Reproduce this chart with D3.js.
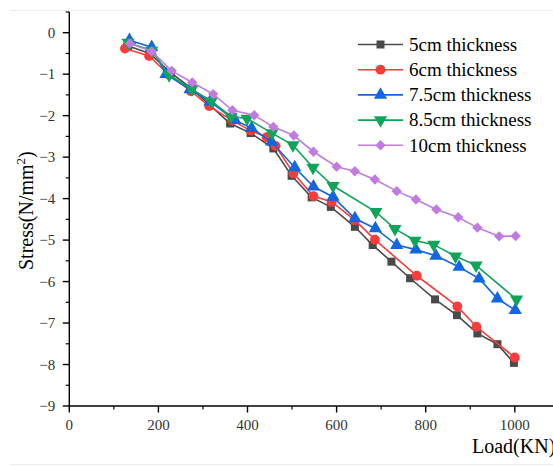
<!DOCTYPE html>
<html>
<head>
<meta charset="utf-8">
<script src="https://cdn.jsdelivr.net/npm/d3@7"></script>
<style>
  html, body { margin: 0; padding: 0; background: #fff; }
  svg { display: block; }
</style>
</head>
<body>
<svg id="chart" width="553" height="466"></svg>
<script>
// Series: load (kN) and stress (N/mm²) for each slab thickness
const seriesNames = ["5cm thickness", "6cm thickness", "7.5cm thickness", "8.5cm thickness", "10cm thickness"];

const load5 = [132, 181, 228, 275, 316, 361, 407, 458, 499, 544, 587, 641, 681, 723, 765, 821, 870, 916, 961, 998];
const stress5 = [-0.32, -0.5, -0.97, -1.35, -1.75, -2.19, -2.42, -2.79, -3.45, -3.97, -4.2, -4.68, -5.12, -5.52, -5.92, -6.43, -6.81, -7.25, -7.51, -7.96];

const load6 = [125, 179, 222, 273, 314, 366, 407, 443, 463, 503, 548, 589, 641, 686, 780, 871, 914, 1000];
const stress6 = [-0.38, -0.56, -1.0, -1.41, -1.77, -2.12, -2.36, -2.52, -2.73, -3.39, -3.94, -4.08, -4.52, -4.99, -5.86, -6.6, -7.09, -7.83];

const load75 = [135, 185, 217, 271, 316, 372, 409, 454, 506, 548, 592, 641, 687, 735, 778, 823, 875, 920, 961, 1001];
const stress75 = [-0.18, -0.35, -1.0, -1.37, -1.66, -2.11, -2.3, -2.63, -3.25, -3.71, -3.96, -4.48, -4.72, -5.12, -5.23, -5.38, -5.65, -5.93, -6.41, -6.69];

const load85 = [132, 185, 224, 275, 319, 363, 399, 455, 502, 547, 592, 688, 731, 776, 818, 867, 913, 1004];
const stress85 = [-0.24, -0.43, -1.02, -1.36, -1.65, -2.02, -2.07, -2.42, -2.71, -3.25, -3.69, -4.32, -4.73, -5.01, -5.11, -5.39, -5.61, -6.43];

const load10 = [136, 185, 230, 276, 323, 366, 415, 458, 504, 548, 600, 641, 686, 735, 778, 824, 873, 916, 965, 1002];
const stress10 = [-0.26, -0.45, -0.92, -1.2, -1.48, -1.87, -1.99, -2.27, -2.48, -2.87, -3.23, -3.34, -3.54, -3.82, -4.02, -4.26, -4.45, -4.7, -4.91, -4.9];

const xTicks = [0, 200, 400, 600, 800, 1000];
const yTicks = [0, -1, -2, -3, -4, -5, -6, -7, -8, -9];

const loads = [load5, load6, load75, load85, load10];
const stresses = [stress5, stress6, stress75, stress85, stress10];
const colors = ["#4a4a4a", "#f83b3b", "#1266e0", "#10a35a", "#c07be0"];
// the diamond is a square turned by 45°
const symbols = [d3.symbolSquare, d3.symbolCircle, d3.symbolTriangle, d3.symbolTriangle, d3.symbolSquare];
const symbolSizes = [64, 76, 76, 76, 54];
const symbolRotate = [0, 0, 0, 180, 45];

const SERIF = "'Times New Roman', 'Liberation Serif', 'DejaVu Serif', serif";

const svg = d3.select("#chart");

// faint frame lines at the top and bottom of the figure
svg.append("line").attr("x1", 10).attr("x2", 553).attr("y1", 10.5).attr("y2", 10.5)
  .attr("stroke", "#ececec").attr("stroke-width", 1);
svg.append("line").attr("x1", 10).attr("x2", 553).attr("y1", 464.5).attr("y2", 464.5)
  .attr("stroke", "#ececec").attr("stroke-width", 1);

const x = d3.scaleLinear().domain([0, 1100]).range([69.3, 69.3 + 0.4455 * 1100]);
const y = d3.scaleLinear().domain([-9, 0.5]).range([406, 32.7 - 0.5 * 41.48]);

// minor ticks
const xMinor = d3.range(100, 1100, 200);
const yMinor = d3.range(-8.5, 0.6, 1);

const gx = svg.append("g").attr("transform", `translate(0,${y(-9)})`);
gx.append("line").attr("x1", x(0)).attr("x2", 553).attr("stroke", "#000").attr("stroke-width", 1.4);
gx.selectAll(".maj").data(xTicks).join("line")
  .attr("x1", d => x(d)).attr("x2", d => x(d)).attr("y1", 0).attr("y2", 6.5)
  .attr("stroke", "#000").attr("stroke-width", 1.4);
gx.selectAll(".min").data(xMinor).join("line")
  .attr("x1", d => x(d)).attr("x2", d => x(d)).attr("y1", 0).attr("y2", 3.5)
  .attr("stroke", "#000").attr("stroke-width", 1.2);
gx.selectAll("text").data(xTicks).join("text")
  .attr("x", d => x(d)).attr("y", 24)
  .attr("text-anchor", "middle").attr("font-family", SERIF).attr("font-size", 15).attr("fill", "#333")
  .text(d => d);

const gy = svg.append("g").attr("transform", `translate(${x(0)},0)`);
gy.append("line").attr("y1", y(-9)).attr("y2", y(0.5)).attr("stroke", "#000").attr("stroke-width", 1.4);
gy.selectAll(".maj").data(yTicks).join("line")
  .attr("y1", d => y(d)).attr("y2", d => y(d)).attr("x1", 0).attr("x2", -6.5)
  .attr("stroke", "#000").attr("stroke-width", 1.4);
gy.selectAll(".min").data(yMinor).join("line")
  .attr("y1", d => y(d)).attr("y2", d => y(d)).attr("x1", 0).attr("x2", -3.5)
  .attr("stroke", "#000").attr("stroke-width", 1.2);
gy.selectAll("text").data(yTicks).join("text")
  .attr("x", -14).attr("y", d => y(d)).attr("dy", "0.35em")
  .attr("text-anchor", "end").attr("font-family", SERIF).attr("font-size", 15).attr("fill", "#333")
  .text(d => d3.format("")(d).replace("-", "\u2212"));

// axis titles
svg.append("text").attr("x", 472).attr("y", 453).attr("font-family", SERIF)
  .attr("font-size", 20).attr("fill", "#000")
  .text("Load(KN)");
const yt = svg.append("text").attr("transform", "translate(33,270) rotate(-90)")
  .attr("font-family", SERIF).attr("font-size", 20).attr("fill", "#000");
yt.append("tspan").text("Stress(N/mm");
yt.append("tspan").attr("font-size", 13).attr("dy", -8).text("2");
yt.append("tspan").attr("dy", 8).text(")");

// series lines and markers
const line = d3.line().x(d => x(d[0])).y(d => y(d[1]));
seriesNames.forEach((name, i) => {
  const pts = loads[i].map((l, j) => [l, stresses[i][j]]);
  const g = svg.append("g");
  g.append("path").datum(pts).attr("d", line)
    .attr("fill", "none").attr("stroke", colors[i]).attr("stroke-width", 1.6);
  g.selectAll("path.m").data(pts).join("path").attr("class", "m")
    .attr("d", d3.symbol().type(symbols[i]).size(symbolSizes[i]))
    .attr("transform", d => `translate(${x(d[0])},${y(d[1])}) rotate(${symbolRotate[i]})`)
    .attr("fill", colors[i]);
});

// legend
const lg = svg.append("g");
seriesNames.forEach((name, i) => {
  const cy = 44.5 + i * 25.2;
  lg.append("line").attr("x1", 358).attr("x2", 403).attr("y1", cy).attr("y2", cy)
    .attr("stroke", colors[i]).attr("stroke-width", 1.6);
  lg.append("path").attr("d", d3.symbol().type(symbols[i]).size(symbolSizes[i])())
    .attr("transform", `translate(380.5,${cy}) rotate(${symbolRotate[i]})`)
    .attr("fill", colors[i]);
  lg.append("text").attr("x", 409).attr("y", cy).attr("dy", "0.33em")
    .attr("font-family", SERIF).attr("font-size", 19).attr("fill", "#000").text(name);
});
</script>
</body>
</html>
